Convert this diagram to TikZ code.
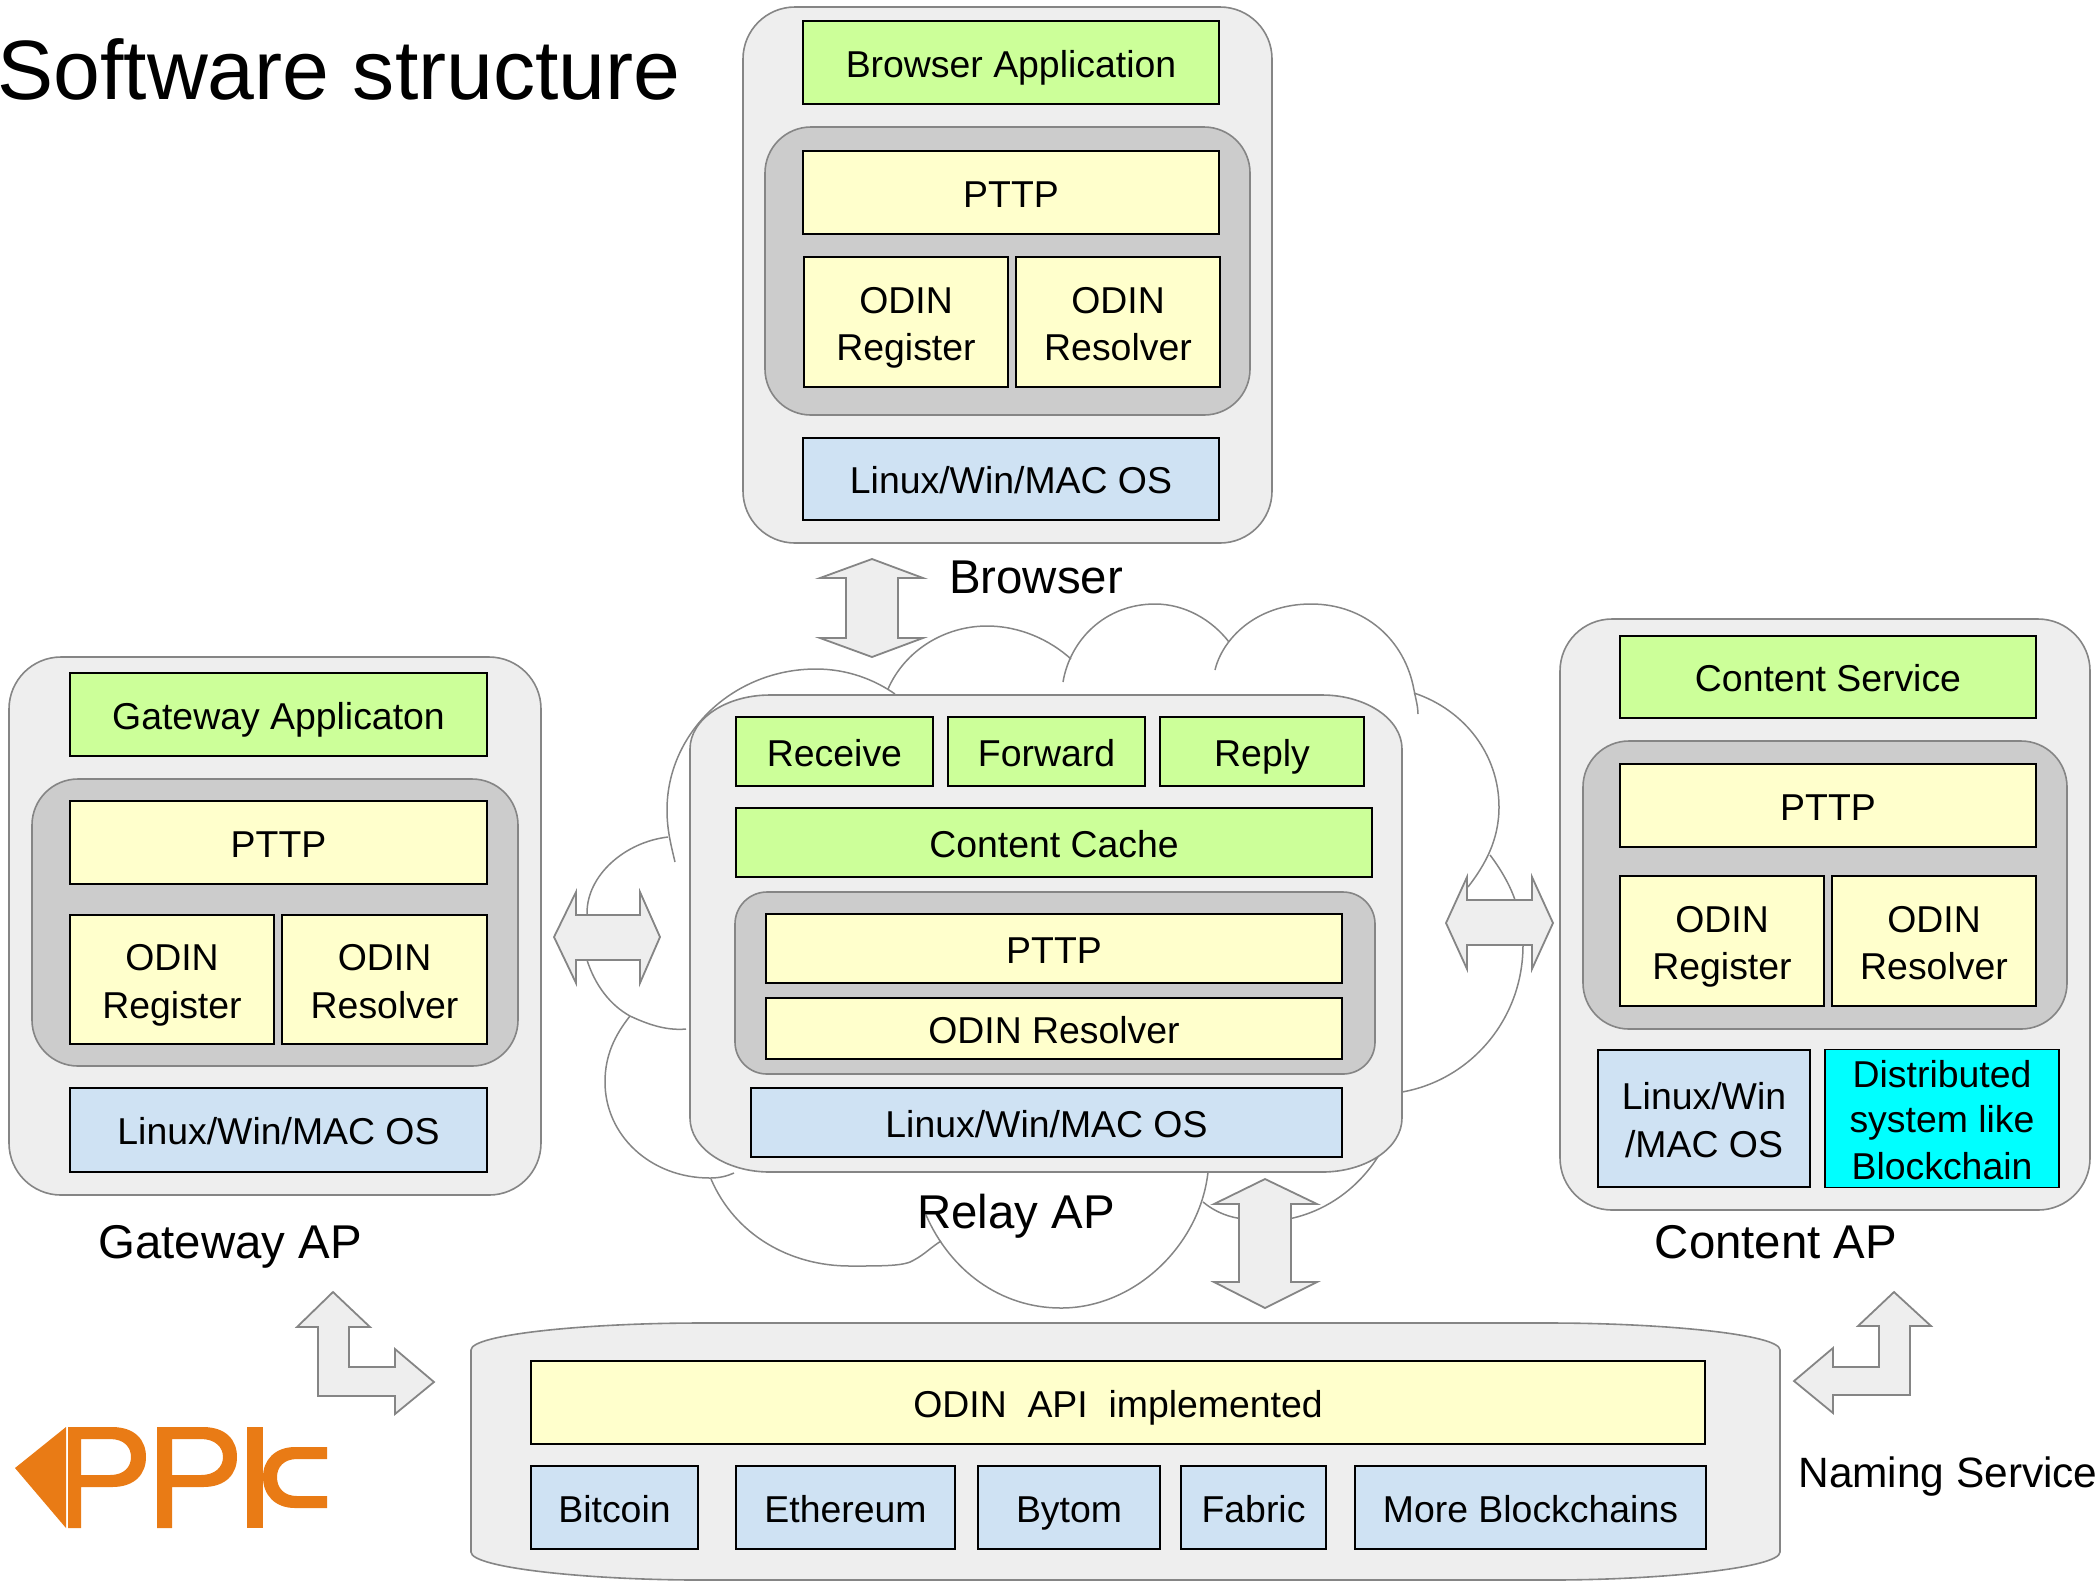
\documentclass[tikz,border=0pt]{standalone}
\usepackage{fontspec}
\setmainfont{Liberation Sans}

\definecolor{appgreen}{HTML}{CCFF99}
\definecolor{protoyellow}{HTML}{FFFFCC}
\definecolor{osblue}{HTML}{CFE2F3}
\definecolor{chaincyan}{HTML}{00FFFF}
\definecolor{panelgray}{HTML}{EEEEEE}
\definecolor{stackgray}{HTML}{CCCCCC}
\definecolor{edgegray}{HTML}{858585}
\definecolor{logoorange}{HTML}{E97B15}

\def\layerstrut{\vrule width 0pt height 18.8pt depth 4pt}

\tikzstyle{layer}=[draw=black, line width=0.85pt, inner sep=0pt, outer sep=0pt, align=center, font=\fontsize{18.7}{22.6}\selectfont]
\tikzstyle{appbox}=[layer, fill=appgreen]
\tikzstyle{protobox}=[layer, fill=protoyellow]
\tikzstyle{osbox}=[layer, fill=osblue]
\tikzstyle{chainbox}=[layer, fill=chaincyan]
\tikzstyle{panel}=[draw=edgegray, line width=0.8pt, fill=panelgray, rounded corners=26pt]
\tikzstyle{stack}=[draw=edgegray, line width=0.8pt, fill=stackgray, rounded corners=23pt]
\tikzstyle{blockarrow}=[draw=edgegray, line width=0.9pt, fill=panelgray, line join=miter]
\tikzstyle{puff}=[draw=edgegray, line width=0.75pt]
\tikzstyle{caption}=[inner sep=0pt, anchor=base, font=\fontsize{23.7}{28}\selectfont]

\begin{document}
\begin{tikzpicture}[x=0.5pt, y=-0.5pt]
  \useasboundingbox (0,0) rectangle (2098,1587);

  \node[inner sep=0pt, anchor=west, font=\fontsize{42.1}{50}\selectfont] (title) at (-3,69) {Software structure};

  % The cloud behind the relay
  \draw[puff] (675,862) .. controls (671,845) and (667,830) .. (667,810) .. controls (667,732) and (734,669) .. (816,669) .. controls (848,669) and (875,680) .. (895,694);
  \draw[puff] (888,689) .. controls (905,650) and (945,626) .. (987,626) .. controls (1020,626) and (1050,640) .. (1071,659);
  \draw[puff] (1063,682) .. controls (1070,640) and (1105,604) .. (1155,604) .. controls (1185,604) and (1212,620) .. (1229,642);
  \draw[puff] (1215,670) .. controls (1222,640) and (1255,604) .. (1311,604) .. controls (1365,604) and (1405,640) .. (1414,690) .. controls (1416,700) and (1418,707) .. (1418,714);
  \draw[puff] (1414,693) .. controls (1465,710) and (1499,755) .. (1499,807) .. controls (1499,840) and (1485,865) .. (1468,887);
  \draw[puff] (1490,855) .. controls (1500,868) and (1510,885) .. (1515,900);
  \draw[puff] (1523,945) .. controls (1523,1020) and (1470,1080) .. (1402,1092);
  \draw[puff] (1203,1202) .. controls (1215,1212) and (1230,1218) .. (1245,1219) .. controls (1262,1222) and (1280,1220) .. (1293,1218) .. controls (1335,1208) and (1365,1180) .. (1382,1150);
  \draw[puff] (926,1215) .. controls (950,1270) and (1000,1308) .. (1061,1308) .. controls (1135,1308) and (1200,1245) .. (1208,1172);
  \draw[puff] (711,1179) .. controls (735,1235) and (790,1266) .. (850,1266) .. controls (885,1266) and (905,1266) .. (914,1260) .. controls (925,1254) and (930,1248) .. (941,1241);
  \draw[puff] (630,1016) .. controls (615,1035) and (605,1055) .. (605,1082) .. controls (605,1135) and (650,1178) .. (710,1178) .. controls (720,1178) and (727,1176) .. (734,1173);
  \draw[puff] (668,837) .. controls (625,842) and (587,875) .. (587,913) .. controls (587,930) and (587,945) .. (587,960) .. controls (595,985) and (610,1005) .. (630,1016) .. controls (645,1023) and (665,1031) .. (686,1029);

  % The panels
  \foreach \name/\xa/\ya/\xb/\yb in {browser/743/7/1272/543, gateway/9/657/541/1195, content/1560/619/2090/1210} {
    \path[panel] (\xa,\ya) rectangle (\xb,\yb);
  }
  \path[panel, rounded corners=0pt] (690,749) .. controls (690,719) and (726,695) .. (770,695) -- (1322,695) .. controls (1366,695) and (1402,719) .. (1402,749) -- (1402,1118) .. controls (1402,1148) and (1366,1172) .. (1322,1172) -- (770,1172) .. controls (726,1172) and (690,1148) .. (690,1118) -- cycle;
  \path[panel, rounded corners=0pt] (471,1350) .. controls (471,1334) and (590,1323) .. (700,1323) -- (1550,1323) .. controls (1660,1323) and (1780,1334) .. (1780,1350) -- (1780,1552) .. controls (1780,1568) and (1660,1580) .. (1550,1580) -- (700,1580) .. controls (590,1580) and (471,1568) .. (471,1552) -- cycle;

  % The grey stacks
  \foreach \name/\xa/\ya/\xb/\yb in {browser/765/127/1250/415, gateway/32/779/518/1066, content/1583/741/2067/1029} {
    \path[stack] (\xa,\ya) rectangle (\xb,\yb);
  }
  \path[stack, rounded corners=16pt] (735,892) rectangle (1375,1074);

  % All the layers
  \foreach \name/\kind/\xa/\ya/\xb/\yb/\txt in {
    brApp/appbox/803/21/1219/104/{Browser Application},
    brPttp/protobox/803/151/1219/234/{PTTP},
    brReg/protobox/804/257/1008/387/{ODIN\\Register},
    brRes/protobox/1016/257/1220/387/{ODIN\\Resolver},
    brOs/osbox/803/438/1219/520/{Linux/Win/MAC OS},
    gwApp/appbox/70/673/487/756/{Gateway Applicaton},
    gwPttp/protobox/70/801/487/884/{PTTP},
    gwReg/protobox/70/915/274/1044/{ODIN\\Register},
    gwRes/protobox/282/915/487/1044/{ODIN\\Resolver},
    gwOs/osbox/70/1088/487/1172/{Linux/Win/MAC OS},
    ctApp/appbox/1620/636/2036/718/{Content Service},
    ctPttp/protobox/1620/764/2036/847/{PTTP},
    ctReg/protobox/1620/876/1824/1006/{ODIN\\Register},
    ctRes/protobox/1832/876/2036/1006/{ODIN\\Resolver},
    ctOs/osbox/1598/1050/1810/1187/{Linux/Win\\/MAC OS},
    ctChain/chainbox/1825/1050/2059/1187/{Distributed\\system like\\Blockchain},
    rlRecv/appbox/736/717/933/786/{Receive},
    rlFwd/appbox/948/717/1145/786/{Forward},
    rlReply/appbox/1160/717/1364/786/{Reply},
    rlCache/appbox/736/808/1372/877/{Content Cache},
    rlPttp/protobox/766/914/1342/983/{PTTP},
    rlRes/protobox/766/998/1342/1059/{ODIN Resolver},
    rlOs/osbox/751/1088/1342/1157/{Linux/Win/MAC OS},
    nsApi/protobox/531/1361/1705/1444/{ODIN\ \ API\ \ implemented},
    nsBtc/osbox/531/1466/698/1549/{Bitcoin},
    nsEth/osbox/736/1466/955/1549/{Ethereum},
    nsBtm/osbox/978/1466/1160/1549/{Bytom},
    nsFab/osbox/1181/1466/1326/1549/{Fabric},
    nsMore/osbox/1355/1466/1706/1549/{More Blockchains}} {
    \node[\kind, minimum width={(\xb-\xa)*0.5pt}, minimum height={(\yb-\ya)*0.5pt}] (\name) at ({(\xa+\xb)/2},{(\ya+\yb)/2}) {\layerstrut\txt\layerstrut};
  }

  % The captions
  \foreach \pos/\name/\txt in {{(1036,593)/capBrowser/Browser}, {(230,1258)/capGateway/Gateway AP}, {(1016,1228)/capRelay/Relay AP}, {(1776,1258)/capContent/Content AP}} {
    \node[caption] (\name) at \pos {\txt};
  }
  \node[caption, font=\fontsize{21.2}{25}\selectfont] (capNaming) at (1948,1487) {Naming Service};

  % The block arrows
  \path[blockarrow] (872,559) -- (923,578) -- (898,578) -- (898,638) -- (923,638) -- (872,657) -- (820,638) -- (846,638) -- (846,578) -- (820,578) -- cycle;
  \path[blockarrow] (1265,1179) -- (1317,1204) -- (1291,1204) -- (1291,1282) -- (1317,1282) -- (1265,1308) -- (1214,1282) -- (1239,1282) -- (1239,1204) -- (1214,1204) -- cycle;
  \path[blockarrow] (554,937) -- (576,892) -- (576,915) -- (640,915) -- (640,892) -- (660,937) -- (640,983) -- (640,960) -- (576,960) -- (576,983) -- cycle;
  \path[blockarrow] (1446,923) -- (1467,877) -- (1467,900) -- (1532,900) -- (1532,877) -- (1553,923) -- (1532,969) -- (1532,945) -- (1467,945) -- (1467,969) -- cycle;
  \path[blockarrow] (333,1292) -- (370,1327) -- (349,1327) -- (349,1367) -- (395,1367) -- (395,1349) -- (434,1382) -- (395,1414) -- (395,1396) -- (318,1396) -- (318,1327) -- (297,1327) -- cycle;
  \path[blockarrow] (1894,1292) -- (1931,1326) -- (1910,1326) -- (1910,1395) -- (1833,1395) -- (1833,1413) -- (1794,1381) -- (1833,1348) -- (1833,1367) -- (1879,1367) -- (1879,1326) -- (1858,1326) -- cycle;

  % The logo
  \fill[logoorange] (15,1468) -- (66,1427) -- (66,1528) -- cycle;
  \fill[logoorange, even odd rule] (68,1427) -- (112,1427) .. controls (135,1427) and (146,1440) .. (146,1457) .. controls (146,1474) and (135,1487) .. (112,1487) -- (81,1487) -- (81,1528) -- (68,1528) -- cycle
    (81,1439) -- (81,1475) -- (110,1475) .. controls (124,1475) and (131,1467) .. (131,1457) .. controls (131,1447) and (124,1439) .. (110,1439) -- cycle;
  \fill[logoorange, even odd rule] (157,1427) -- (203,1427) .. controls (226,1427) and (237,1440) .. (237,1457) .. controls (237,1474) and (226,1487) .. (203,1487) -- (172,1487) -- (172,1528) -- (157,1528) -- cycle
    (172,1439) -- (172,1475) -- (201,1475) .. controls (215,1475) and (223,1467) .. (223,1457) .. controls (223,1447) and (215,1439) .. (201,1439) -- cycle;
  \fill[logoorange] (247,1427) rectangle (263,1528);
  \fill[logoorange] (327,1447) -- (327,1459) -- (297,1459) .. controls (284,1459) and (277,1467) .. (277,1477) .. controls (277,1488) and (284,1496) .. (297,1496) -- (327,1496) -- (327,1508) -- (295,1508) .. controls (275,1508) and (263,1495) .. (263,1477) .. controls (263,1460) and (275,1447) .. (295,1447) -- cycle;
\end{tikzpicture}
\end{document}
